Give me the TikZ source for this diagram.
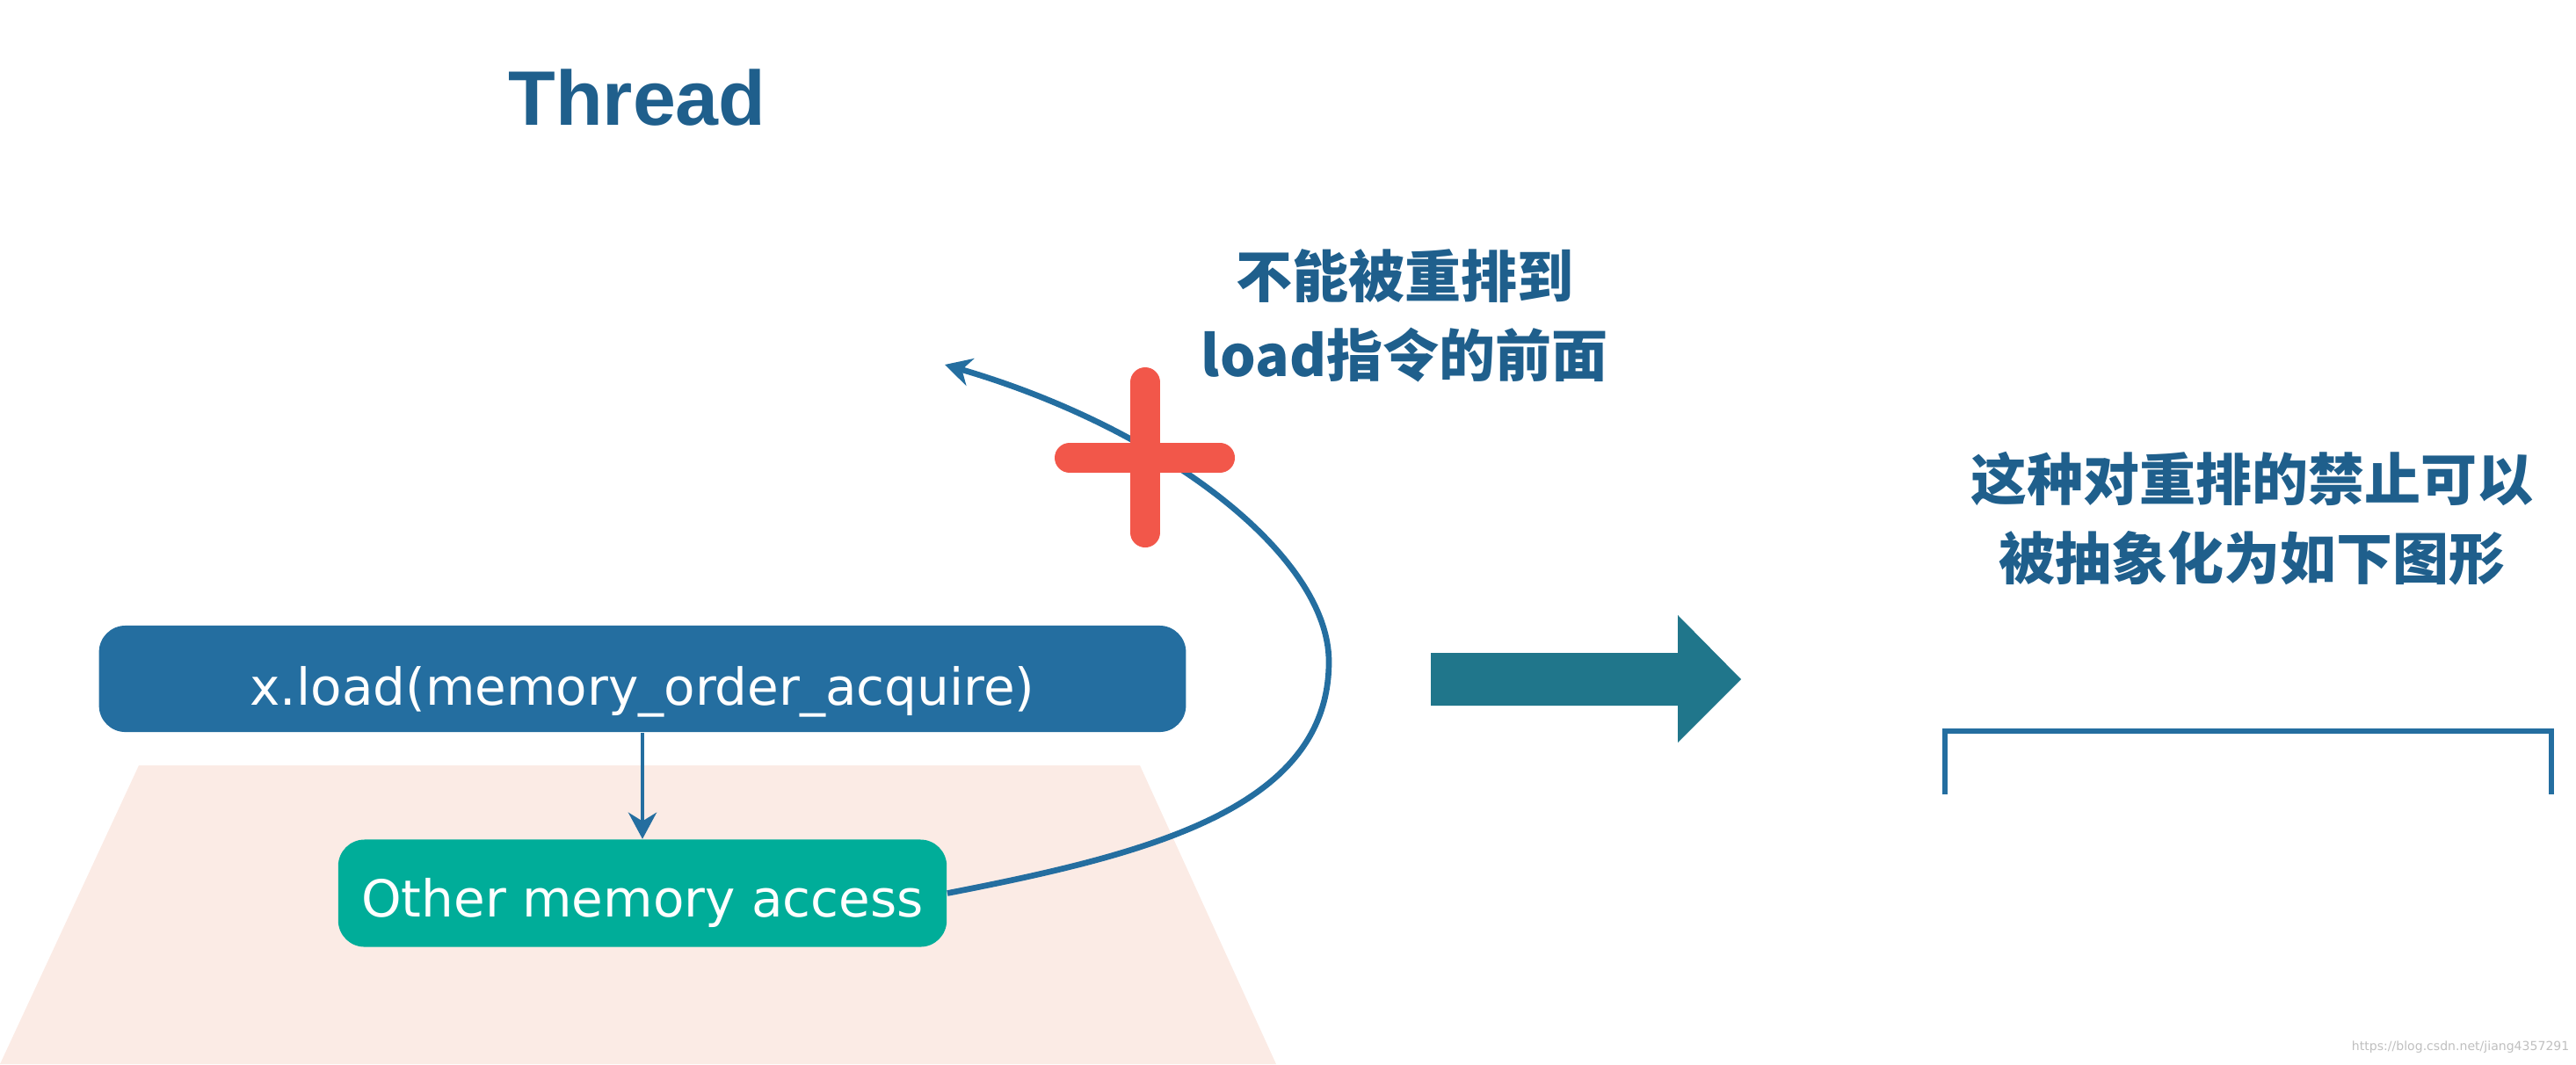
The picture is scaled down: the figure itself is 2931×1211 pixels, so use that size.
\documentclass[tikz,border=0pt]{standalone}
\usepackage{fontspec}
\setmainfont{DejaVu Sans}
\newfontfamily\titlefont{Liberation Sans}
\newfontfamily\cjk{Noto Sans CJK SC}
\usetikzlibrary{arrows.meta}
\definecolor{boxblue}{HTML}{246EA0}
\definecolor{txtblue}{HTML}{1F5F8C}
\definecolor{boxgreen}{HTML}{00AD99}
\definecolor{bgpink}{HTML}{FBEBE5}
\definecolor{crossred}{HTML}{F2574A}
\definecolor{bigteal}{HTML}{20768B}
\tikzset{
  opbox/.style={rounded corners=0.3cm, inner sep=0pt, text=white,
    font=\fontsize{16.5}{20}\selectfont},
  lbl/.style={text=txtblue, align=center, inner sep=0pt,
    font=\cjk\bfseries\fontsize{18.2}{25.6}\selectfont},
  flow/.style={draw=boxblue, line width=1.4pt, -{Stealth[length=0.3cm,width=0.32cm]}},
}
\begin{document}
\begin{tikzpicture}[x=0.01cm, y=-0.01cm]
\useasboundingbox (0,0) rectangle (2931,1211);
% pink trapezoid
\fill[bgpink] (158,871) -- (1297,871) -- (1452,1211) -- (0,1211) -- cycle;
% title
\node[text=txtblue, font=\titlefont\bfseries\fontsize{25}{30}\selectfont, inner sep=0pt] (title) at (725,111) {Thread};
% boxes
\node[opbox, fill=boxblue, minimum width=12.36cm, minimum height=1.21cm, text height=0.6cm, text depth=0cm] (load) at (731,772.5) {x.load(memory\_order\_acquire)};
\node[opbox, fill=boxgreen, minimum width=6.92cm, minimum height=1.22cm, text height=0.54cm, text depth=0cm] (other) at (731,1016.5) {Other memory access};
\draw[flow] (load.south) -- (other.north);
% curved arrow
\coordinate (tip) at (1075,415);
\coordinate (far) at (1512,753);
\draw[flow, line width=1.9pt, -{Stealth[length=0.3cm,width=0.32cm]}] (other.east) .. controls (1307,972) and (1512,920) .. (far)
   .. controls (1512,633) and (1325,488) .. (tip);
% red cross
\draw[crossred, line width=0.34cm, line cap=round] (1303,435) -- (1303,606);
\draw[crossred, line width=0.34cm, line cap=round] (1217,521) -- (1388,521);
% labels
\node[lbl] (note1) at (1598,359) {不能被重排到\\load指令的前面};
\node[lbl] (note2) at (2562,590) {这种对重排的禁止可以\\被抽象化为如下图形};
% big arrow
\fill[bigteal] (1628,743) -- (1909,743) -- (1909,700) -- (1981,773) -- (1909,845) -- (1909,803) -- (1628,803) -- cycle;
% bracket
\draw[boxblue, line width=1.7pt] (2213,904) -- (2213,832) -- (2903,832) -- (2903,904);
% watermark
\node[text=black!25, font=\fontsize{4}{5}\selectfont, inner sep=0pt, anchor=east] (wm) at (2924,1192) {https://blog.csdn.net/jiang4357291};
\end{tikzpicture}
\end{document}
